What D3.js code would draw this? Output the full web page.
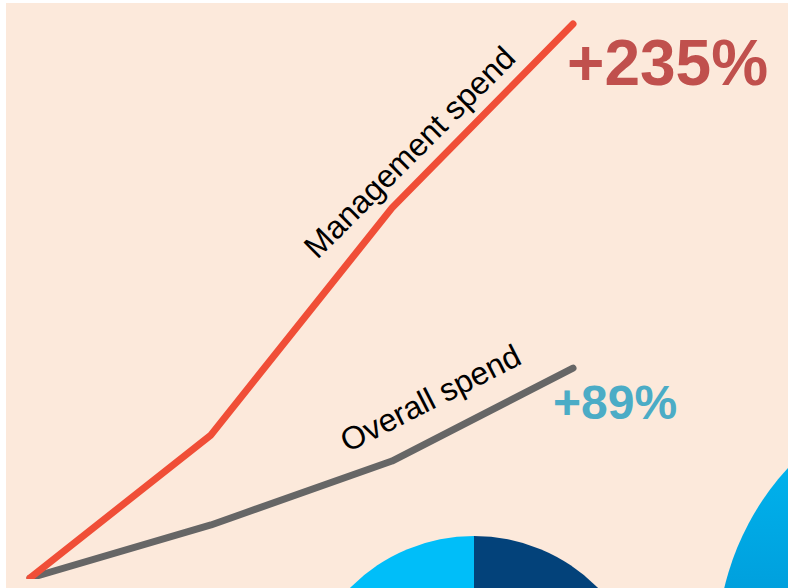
<!DOCTYPE html>
<html>
<head>
<meta charset="utf-8">
<script src="https://cdnjs.cloudflare.com/ajax/libs/d3/7.8.5/d3.min.js"></script>
<style>
  body { margin: 0; background: #ffffff; }
  svg { display: block; font-family: "Liberation Sans", Arial, sans-serif; }
</style>
</head>
<body>
<svg id="chart" width="788" height="588"></svg>
<script>
// periods (four points along the x axis) and spend index (start = 100)
var periods = [0, 1, 2, 3];
var managementSpend = [100, 160.7, 257, 335];
var overallSpend = [100, 122.5, 149.6, 189];
var seriesLabels = ["Management spend", "Overall spend"];
var changeLabels = ["+235%", "+89%"];
// decorative pie peeking in at the bottom
var pieValues = [50, 50];

var width = 788, height = 588;
var svg = d3.select("#chart");

// peach panel
svg.append("rect")
    .attr("x", 6).attr("y", 3)
    .attr("width", width - 6).attr("height", height - 3)
    .attr("fill", "#fce9db");

var x = d3.scaleLinear().domain([0, 3]).range([30, 573]);
var y = d3.scaleLinear().domain([100, 335]).range([578, 24]);

// gradient for the big circle on the right
var defs = svg.append("defs");
var grad = defs.append("linearGradient")
    .attr("id", "blueGrad")
    .attr("x1", 0).attr("y1", 0).attr("x2", 0).attr("y2", 1);
grad.append("stop").attr("offset", "0%").attr("stop-color", "#00bdf6");
grad.append("stop").attr("offset", "45%").attr("stop-color", "#009bd9");
grad.append("stop").attr("offset", "100%").attr("stop-color", "#0080c0");

defs.append("clipPath").attr("id", "plotClip")
  .append("rect").attr("x", 0).attr("y", 0).attr("width", width).attr("height", 579);

// pie chart (only the top shows)
var pie = d3.pie().sort(null).value(d => d);
var arc = d3.arc().innerRadius(0).outerRadius(174);
svg.append("g")
    .attr("transform", "translate(474,710)")
    .selectAll("path")
    .data(pie(pieValues))
    .enter().append("path")
    .attr("d", arc)
    .attr("fill", (d, i) => i == 0 ? "#03427a" : "#00bef9");

// big circle on the right
svg.append("circle")
    .attr("cx", 986).attr("cy", 650).attr("r", 269)
    .attr("fill", "url(#blueGrad)");

var line = d3.line()
    .x((d, i) => x(periods[i]))
    .y(d => y(d));

var lines = svg.append("g").attr("clip-path", "url(#plotClip)");

lines.append("path")
    .datum(overallSpend)
    .attr("d", line)
    .attr("fill", "none")
    .attr("stroke", "#666666")
    .attr("stroke-width", 7)
    .attr("stroke-linecap", "round")
    .attr("stroke-linejoin", "round");

lines.append("path")
    .datum(managementSpend)
    .attr("d", line)
    .attr("fill", "none")
    .attr("stroke", "#f04e37")
    .attr("stroke-width", 7)
    .attr("stroke-linecap", "round")
    .attr("stroke-linejoin", "round");

// series labels, placed in data units along the lines
var labelPos = [[2.14, 277.3, -45], [2.24, 172.1, -27]];
labelPos.forEach(function (p, i) {
    svg.append("text")
        .attr("transform", "translate(" + x(p[0]) + "," + y(p[1]) + ") rotate(" + p[2] + ")")
        .attr("text-anchor", "middle")
        .attr("font-size", 32)
        .attr("fill", "#000000")
        .text(seriesLabels[i]);
});

// change labels at the line ends
svg.append("text")
    .attr("x", x(3) - 6).attr("y", y(335) + 61)
    .attr("font-size", 64)
    .attr("font-weight", "bold")
    .attr("fill", "#c0504d")
    .text(changeLabels[0]);

svg.append("text")
    .attr("x", x(3) - 20).attr("y", y(189) + 51)
    .attr("font-size", 48)
    .attr("font-weight", "bold")
    .attr("fill", "#4bacc6")
    .text(changeLabels[1]);
</script>
</body>
</html>
